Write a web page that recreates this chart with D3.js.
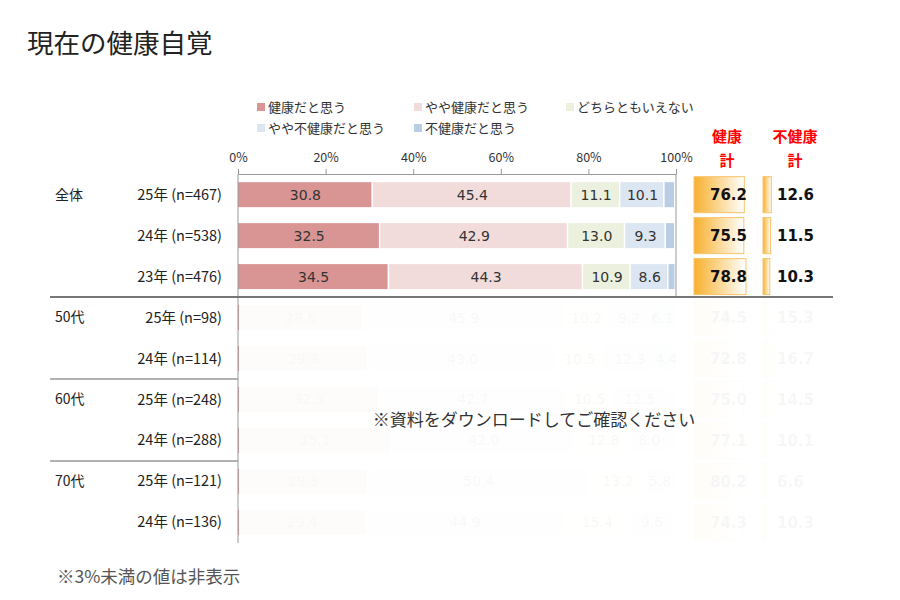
<!DOCTYPE html>
<html><head><meta charset="utf-8">
<script src="https://cdn.jsdelivr.net/npm/d3@7"></script>
<style>body{margin:0;background:#fff}svg{display:block}</style>
</head><body>
<svg id="c" width="900" height="600"></svg>
<script>
const seriesNames = ["健康だと思う","やや健康だと思う","どちらともいえない","やや不健康だと思う","不健康だと思う"];
const seriesColors = ["#D99594","#F2DCDB","#EBF1DE","#DCE6F2","#B9CDE5"];
const groupLabels = ["全体","","","50代","","60代","","70代",""];
const yearLabels = ["25年 (n=467)","24年 (n=538)","23年 (n=476)","25年 (n=98)","24年 (n=114)","25年 (n=248)","24年 (n=288)","25年 (n=121)","24年 (n=136)"];
const s1 = [30.8,32.5,34.5,28.6,29.8,32.3,35.1,29.8,29.4];
const s2 = [45.4,42.9,44.3,45.9,43.0,42.7,42.0,50.4,44.9];
const s3 = [11.1,13.0,10.9,10.2,10.5,10.5,12.8,13.2,15.4];
const s4 = [10.1,9.3,8.6,9.2,12.3,12.5,8.0,5.8,9.6];
const s5 = [2.5,2.2,1.7,6.1,4.4,2.0,2.1,0.8,0.7];
const healthyTotal = [76.2,75.5,78.8,74.5,72.8,75.0,77.1,80.2,74.3];
const unhealthyTotal = [12.6,11.5,10.3,15.3,16.7,14.5,10.1,6.6,10.3];
const tickValues = [0,20,40,60,80,100];

const svg = d3.select("#c");
const jp = "'Noto Sans CJK JP','Noto Sans',sans-serif";
const num = "'DejaVu Sans',Verdana,sans-serif";

const rows = d3.range(yearLabels.length);
const x = d3.scaleLinear().domain([0,100]).range([238,676]);
const y = d3.scaleBand().domain(rows).range([174,543]).paddingInner(0.39).paddingOuter(0.2);
const xt = d3.scaleLinear().domain([0,100]).range([0,66]);
const data = rows.map(i=>[s1[i],s2[i],s3[i],s4[i],s5[i]]);

// title
svg.append("text").attr("x",27).attr("y",53).attr("font-family",jp).attr("font-size",26.5).attr("fill","#222").text("現在の健康自覚");

// legend
const legPos = [[257,107],[414,107],[566,107],[257,128],[414,128]];
seriesNames.forEach((n,i)=>{
  const g = svg.append("g").attr("transform",`translate(${legPos[i][0]},${legPos[i][1]})`);
  g.append("rect").attr("x",0).attr("y",-4).attr("width",8).attr("height",8).attr("fill",seriesColors[i]);
  g.append("text").attr("x",11).attr("y",0).attr("dy","0.35em").attr("font-family",jp).attr("font-size",13).attr("fill","#333").text(n);
});

// axis
const axis = d3.axisTop(x).tickValues(tickValues).tickFormat(d=>d+"%").tickSize(5).tickPadding(7);
const ag = svg.append("g").attr("transform","translate(0,174)").call(axis);
ag.select(".domain").attr("stroke","#999");
ag.selectAll(".tick line").attr("stroke","#999");
ag.selectAll("text").attr("font-family",jp).attr("font-size",12.5).attr("fill","#333");

// bars
rows.forEach(i=>{
  let acc=0;
  data[i].forEach((v,j)=>{
    const x0=x(acc), x1=x(acc+v);
    svg.append("rect").attr("x",x0).attr("y",y(i)).attr("width",Math.max(0,x1-x0-1.5)).attr("height",y.bandwidth()).attr("fill",seriesColors[j]);
    if(v>=3){
      svg.append("text").attr("x",(x0+x1)/2).attr("y",y(i)+y.bandwidth()/2).attr("dy","0.36em").attr("text-anchor","middle")
        .attr("font-family",num).attr("font-size",14).attr("fill","#333").text(v.toFixed(1));
    }
    acc+=v;
  });
});

// right columns
const defs = svg.append("defs");
const grad = defs.append("linearGradient").attr("id","og").attr("x1","0").attr("x2","1").attr("y1","0").attr("y2","0");
grad.append("stop").attr("offset","0%").attr("stop-color","#F7B02D");
grad.append("stop").attr("offset","100%").attr("stop-color","#FFFFFF");
const rowStep = y.step();
rows.forEach(i=>{
  const cy = y(i)+y.bandwidth()/2;
  const h = 36;
  svg.append("rect").attr("x",694).attr("y",cy-h/2).attr("width",xt(healthyTotal[i])).attr("height",h)
    .attr("fill","url(#og)").attr("stroke","#F9C36A").attr("stroke-width",1);
  svg.append("text").attr("x",747).attr("y",cy).attr("dy","0.36em").attr("text-anchor","end")
    .attr("font-family",num).attr("font-size",15).attr("font-weight","bold").attr("fill","#111").text(healthyTotal[i].toFixed(1));
  svg.append("rect").attr("x",763).attr("y",cy-h/2).attr("width",xt(unhealthyTotal[i])).attr("height",h)
    .attr("fill","url(#og)").attr("stroke","#F9C36A").attr("stroke-width",1);
  svg.append("text").attr("x",777).attr("y",cy).attr("dy","0.36em").attr("text-anchor","start")
    .attr("font-family",num).attr("font-size",15).attr("font-weight","bold").attr("fill","#111").text(unhealthyTotal[i].toFixed(1));
});
// headers
[["健康",727,137],["計",727,161],["不健康",795,137],["計",795,161]].forEach(t=>{
  svg.append("text").attr("x",t[1]).attr("y",t[2]).attr("dy","0.35em").attr("text-anchor","middle")
    .attr("font-family",jp).attr("font-size",15).attr("font-weight","bold").attr("fill","#FF0000").text(t[0]);
});

// left labels
rows.forEach(i=>{
  const cy = y(i)+y.bandwidth()/2;
  if(groupLabels[i]) svg.append("text").attr("x",55).attr("y",cy).attr("dy","0.35em").attr("font-family",jp).attr("font-size",14).attr("fill","#222").text(groupLabels[i]);
  svg.append("text").attr("x",222).attr("y",cy).attr("dy","0.35em").attr("text-anchor","end").attr("font-family",jp).attr("font-size",14.5).attr("fill","#222").text(yearLabels[i]);
});

// fade overlay on lower rows
const sepY = y(3) - (rowStep - y.bandwidth())/2;
svg.append("rect").attr("x",239).attr("y",sepY+1).attr("width",610).attr("height",260).attr("fill","#fff").attr("opacity",0.965);

// separators and frame lines
svg.append("line").attr("x1",238).attr("x2",238).attr("y1",174).attr("y2",543).attr("stroke","#999");
svg.append("line").attr("x1",676).attr("x2",676).attr("y1",174).attr("y2",sepY).attr("stroke","#999");
svg.append("line").attr("x1",50).attr("x2",833).attr("y1",sepY).attr("y2",sepY).attr("stroke","#777").attr("stroke-width",2);
[5,7].forEach(r=>{
  const sy = y(r) - (rowStep - y.bandwidth())/2;
  svg.append("line").attr("x1",50).attr("x2",238).attr("y1",sy).attr("y2",sy).attr("stroke","#999").attr("stroke-width",1.5);
});

svg.append("text").attr("x",534).attr("y",420).attr("dy","0.35em").attr("text-anchor","middle").attr("font-family",jp).attr("font-size",17).attr("fill","#333").text("※資料をダウンロードしてご確認ください");

svg.append("text").attr("x",57).attr("y",577).attr("dy","0.35em").attr("font-family",jp).attr("font-size",17.5).attr("fill","#555").text("※3%未満の値は非表示");
</script>
</body></html>
